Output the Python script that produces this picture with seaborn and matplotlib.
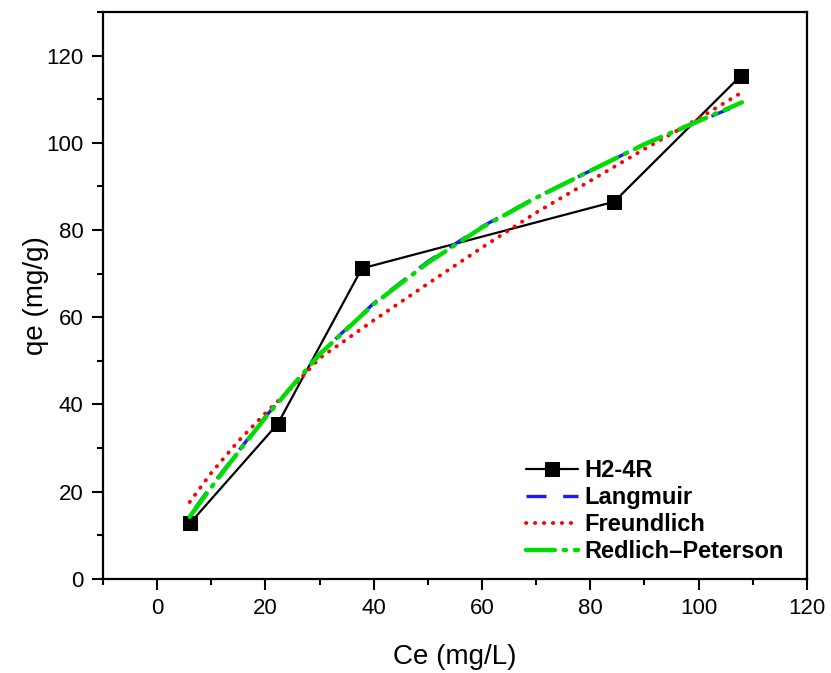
import matplotlib
matplotlib.use("Agg")
import matplotlib.pyplot as plt
import seaborn as sns
from matplotlib.ticker import MultipleLocator

# Experimental data
ce_exp = [6.1, 22.3, 37.8, 84.4, 107.8]
qe_exp = [12.8, 35.6, 71.2, 86.5, 115.4]

# Fitted curves
ce_lang = [7, 10, 15, 20, 25, 30, 40, 50, 60, 70, 80, 90, 100, 106]
qe_lang = [16.2, 21.3, 29.3, 37.2, 44.4, 51.6, 63.2, 72.8, 80.8, 87.5, 93.6, 99.7, 104.9, 108.0]

ce_freu = [6, 10, 15, 20, 25, 30, 40, 50, 60, 70, 80, 90, 100, 108]
qe_freu = [17.6, 24.3, 31.6, 38.0, 44.0, 50.6, 59.3, 67.7, 76.0, 84.0, 91.3, 98.6, 105.6, 111.6]

ce_rp = [6, 10, 15, 20, 25, 30, 40, 50, 60, 70, 80, 90, 100, 108]
qe_rp = [14.2, 21.0, 29.1, 37.0, 44.3, 51.5, 63.0, 72.5, 80.6, 87.4, 93.6, 99.7, 105.0, 109.3]

sns.set_style("ticks")
plt.rcParams['font.family'] = ['Liberation Sans', 'DejaVu Sans']
plt.rcParams['text.color'] = 'black'
plt.rcParams['axes.labelcolor'] = 'black'

fig = plt.figure(figsize=(8.31, 6.73), dpi=100)
ax = fig.add_axes([0.124, 0.140, 0.847, 0.842])

sns.lineplot(x=ce_exp, y=qe_exp, ax=ax, color='black', lw=1.6, marker='s',
             markersize=9.5, markeredgecolor='black', label='H2-4R')
sns.lineplot(x=ce_lang, y=qe_lang, ax=ax, color='#1a1aff', lw=2.4, label='Langmuir')
ax.lines[-1].set_dashes([6, 5])
sns.lineplot(x=ce_freu, y=qe_freu, ax=ax, color='#ff0000', lw=2.8, label='Freundlich')
ax.lines[-1].set_linestyle((0, (0.1, 2.2)))
ax.lines[-1].set_dash_capstyle('round')
sns.lineplot(x=ce_rp, y=qe_rp, ax=ax, color='#00dd00', lw=3.2, label='Redlich\u2013Peterson')
ax.lines[-1].set_linestyle((0, (6.5, 2, 0.5, 2)))
ax.lines[-1].set_dash_capstyle('round')

ax.set_xlim(-10, 120)
ax.set_ylim(0, 130)
ax.xaxis.set_major_locator(MultipleLocator(20))
ax.xaxis.set_minor_locator(MultipleLocator(10))
ax.yaxis.set_major_locator(MultipleLocator(20))
ax.yaxis.set_minor_locator(MultipleLocator(10))
ax.tick_params(which='major', direction='out', length=8, width=1.5, labelsize=16,
               colors='black', pad=6)
ax.tick_params(which='minor', direction='out', length=4, width=1.5, colors='black')
ax.tick_params(which='both', top=False, right=False)
for s in ax.spines.values():
    s.set_visible(True)
    s.set_linewidth(1.6)
    s.set_color('black')

ax.set_xlabel('Ce (mg/L)', fontsize=20, labelpad=18)
ax.set_ylabel('qe (mg/g)', fontsize=20, labelpad=-2)

leg = ax.legend(loc='lower right', bbox_to_anchor=(0.967, 0.027), frameon=False,
                prop={'weight': 'bold', 'size': 17}, handlelength=2.2,
                labelspacing=0.17, handletextpad=0.25, borderpad=0, borderaxespad=0)

fig.savefig('out.png', dpi=100)
